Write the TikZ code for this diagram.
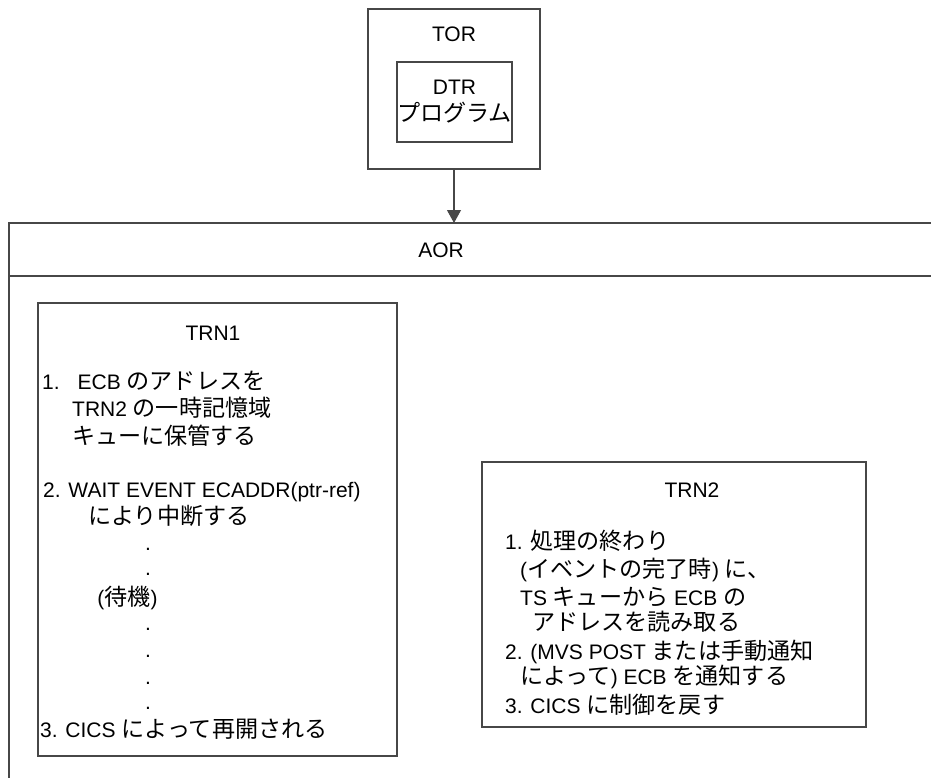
\documentclass[tikz,border=0pt]{standalone}
\usepackage{fontspec}
\setmainfont{Liberation Sans}
\newfontfamily\jpfont[Scale=1.1]{Noto Sans CJK JP}
\newcommand{\ja}[1]{{\jpfont #1}}
\usetikzlibrary{positioning,arrows.meta}
\tikzset{
  frame/.style={draw=black!72, line width=1.1pt},
  box/.style={frame, inner sep=0},
  txt/.style={inner sep=0, anchor=west, text height=18pt, text depth=4pt, font=\fontsize{21}{27}\selectfont},
  arr/.style={frame, -{Triangle[width=14pt,length=13pt]}}
}
\begin{document}
\begin{tikzpicture}[x=1pt,y=-1pt]
\useasboundingbox (0,0) rectangle (931,778);
% TOR with the DTR program inside
\node[box, minimum width=172, minimum height=160] (tor) at (454,89) {};
\node[txt, anchor=center] (torlbl) at (454,35) {TOR};
\node[box, minimum width=115, minimum height=80, align=center, font=\fontsize{21}{27}\selectfont] (dtr) at (454.5,102) {DTR\\\ja{プログラム}};
% AOR region, open on the right and at the bottom
\coordinate (aortop) at (454,223);
\draw[arr] (tor.south) -- (aortop);
\draw[frame] (931,223) -- (9,223) -- (9,778);
\draw[frame] (9,276) -- (931,276);
\node[txt, anchor=center] (aor) at (441,250) {AOR};
% TRN1
\node[box, minimum width=359, minimum height=453] (trn1) at (217.5,529.5) {};
\node[txt, anchor=center] (trn1lbl) at (213,333) {TRN1};
\node[txt] (trn1a) at (42,382) {1.\hspace{18pt}ECB \ja{のアドレスを}};
\node[txt] (trn1b) at (72,409) {TRN2 \ja{の一時記憶域}};
\node[txt] (trn1c) at (72,437) {\ja{キューに保管する}};
\node[txt] (trn1d) at (43,490) {2. WAIT EVENT ECADDR(ptr-ref)};
\node[txt] (trn1e) at (88,517) {\ja{により中断する}};
\foreach \y [count=\i] in {548,573,628,655,682,707}
  \node[inner sep=0, anchor=base, font=\fontsize{21}{27}\selectfont] (dot\i) at (148,\y+2) {.};
\node[txt, anchor=center] (wait) at (127.5,598) {(\ja{待機})};
\node[txt] (trn1f) at (40,730) {3. CICS \ja{によって再開される}};
% TRN2
\node[box, minimum width=384, minimum height=265] (trn2) at (674,594.5) {};
\node[txt, anchor=center] (trn2lbl) at (692,490) {TRN2};
\node[txt] (trn2a) at (505,542) {1. \ja{処理の終わり}};
\node[txt] (trn2b) at (520,570) {(\ja{イベントの完了時}) \ja{に、}};
\node[txt] (trn2c) at (520,598) {TS \ja{キューから} ECB \ja{の}};
\node[txt] (trn2d) at (532,623) {\ja{アドレスを読み取る}};
\node[txt] (trn2e) at (505,652) {2. (MVS POST \ja{または手動通知}};
\node[txt] (trn2f) at (520,677) {\ja{によって}) ECB \ja{を通知する}};
\node[txt] (trn2g) at (505,706) {3. CICS \ja{に制御を戻す}};
\end{tikzpicture}
\end{document}
